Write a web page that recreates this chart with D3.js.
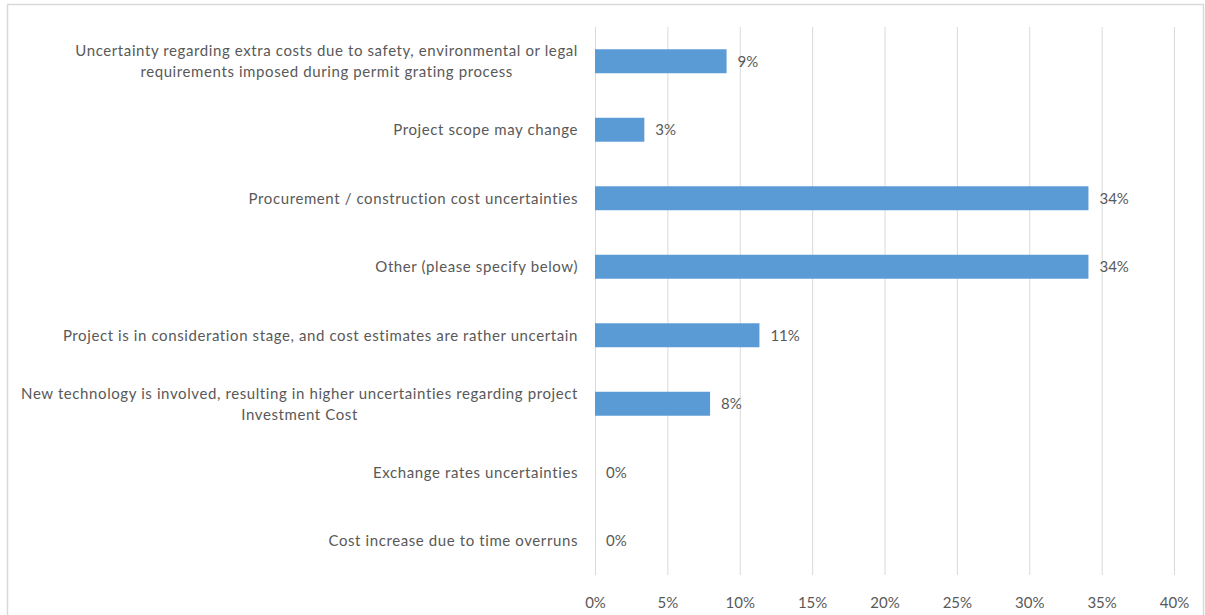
<!DOCTYPE html>
<html>
<head>
<meta charset="utf-8">
<script src="https://cdn.jsdelivr.net/npm/d3@7"></script>
<style>
  html, body { margin: 0; padding: 0; background: #fff; }
  svg { display: block; }
  text { font-family: Lato, "Liberation Sans", sans-serif; fill: #595959; }
</style>
</head>
<body>
<svg id="chart" width="1205" height="615"></svg>
<script>
// ---- data ----
const categories = [
  ["Uncertainty regarding extra costs due to safety, environmental or legal", "requirements imposed during permit grating process"],
  ["Project scope may change"],
  ["Procurement / construction cost uncertainties"],
  ["Other (please specify below)"],
  ["Project is in consideration stage, and cost estimates are rather uncertain"],
  ["New technology is involved, resulting in higher uncertainties regarding project", "Investment Cost"],
  ["Exchange rates uncertainties"],
  ["Cost increase due to time overruns"]
];
const values = [9.09, 3.41, 34.09, 34.09, 11.36, 7.95, 0, 0];
const valueLabels = ["9%", "3%", "34%", "34%", "11%", "8%", "0%", "0%"];
const xTicks = [0, 5, 10, 15, 20, 25, 30, 35, 40];

// ---- layout ----
const svg = d3.select("#chart");
const plot = { left: 595, right: 1174, top: 27, bottom: 575 };
const fontSize = 15;

// chart border
svg.append("rect")
  .attr("x", 7.5).attr("y", 4.5)
  .attr("width", 1196).attr("height", 640)
  .attr("fill", "none").attr("stroke", "#d9d9d9").attr("stroke-width", 1.5);

const x = d3.scaleLinear().domain([0, 40]).range([plot.left, plot.right]);
const y = d3.scaleBand().domain(d3.range(categories.length))
  .range([plot.top, plot.bottom]).paddingInner(0.65).paddingOuter(0.325);

// gridlines via axis
const gx = svg.append("g").attr("transform", `translate(0,${plot.bottom})`)
  .call(d3.axisBottom(x).tickValues(xTicks).tickSize(-(plot.bottom - plot.top)).tickFormat(d => d + "%"));
gx.select(".domain").remove();
gx.selectAll(".tick line").attr("stroke", "#d9d9d9").attr("stroke-width", 1);
gx.selectAll(".tick text").attr("y", 22).attr("font-size", fontSize)
  .style("font-family", "Lato, 'Liberation Sans', sans-serif").attr("fill", "#595959");

// bars
svg.append("g").selectAll("rect").data(values).join("rect")
  .attr("x", x(0))
  .attr("y", (d, i) => y(i))
  .attr("width", d => x(d) - x(0))
  .attr("height", y.bandwidth())
  .attr("fill", "#5b9bd5");

// value labels
svg.append("g").selectAll("text").data(values).join("text")
  .attr("x", d => x(d) + 11)
  .attr("y", (d, i) => y(i) + y.bandwidth() / 2)
  .attr("dy", "0.35em")
  .attr("font-size", fontSize)
  .text((d, i) => valueLabels[i]);

// category labels (multi-line centered block, right aligned)
const labelRight = 578;
const lineH = 21;
const lg = svg.append("g");
categories.forEach((lines, i) => {
  const cy = y(i) + y.bandwidth() / 2;
  const t = lg.append("text").attr("font-size", fontSize).attr("letter-spacing", 0.6);
  lines.forEach((ln, j) => {
    t.append("tspan").text(ln)
      .attr("y", cy + (j - (lines.length - 1) / 2) * lineH)
      .attr("dy", "0.35em");
  });
  const widths = [];
  t.selectAll("tspan").each(function() { widths.push(this.getComputedTextLength()); });
  const maxW = d3.max(widths);
  const center = labelRight - maxW / 2;
  t.selectAll("tspan").attr("x", center).attr("text-anchor", "middle");
});
</script>
</body>
</html>
